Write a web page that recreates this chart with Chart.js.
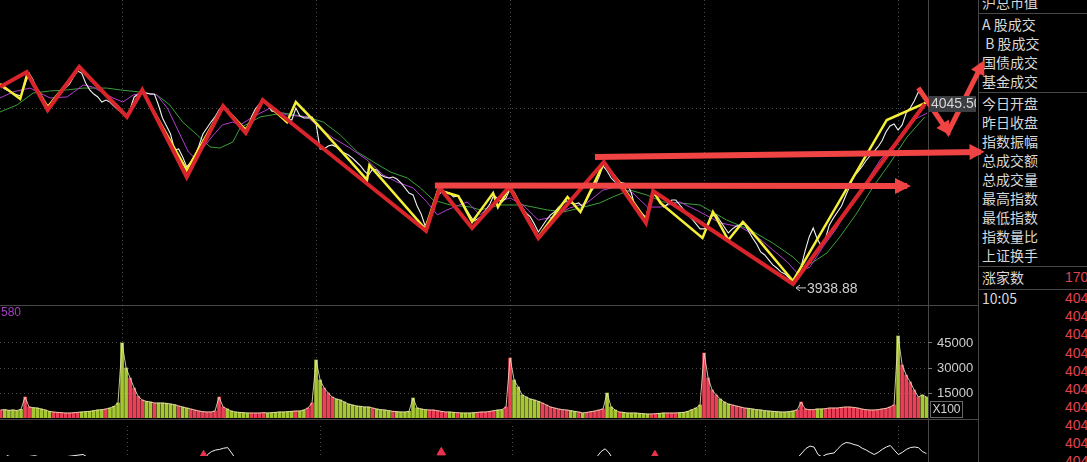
<!DOCTYPE html>
<html lang="zh">
<head>
<meta charset="utf-8">
<title>上证指数 分时</title>
<script src="https://cdn.jsdelivr.net/npm/chart.js@4.4.1/dist/chart.umd.min.js"></script>
<style>
  html, body { margin: 0; padding: 0; background: #000; }
  body { position: relative; width: 1087px; height: 462px; overflow: hidden; font-family: "Liberation Sans", Arial, sans-serif; }
  canvas { position: absolute; left: 0; z-index: 2; }
  #priceChart { top: 0; }
  #volumeChart { top: 305px; }
  #oscChart { top: 420px; }
  .rule { position: absolute; background: #474747; z-index: 0; }
  #side { position: absolute; left: 979px; top: 0; width: 108px; height: 462px; overflow: hidden; z-index: 1;
          font-family: "Noto Sans CJK SC", sans-serif; font-size: 14px; line-height: 18px; color: #d8d8d8; }
  #side div { position: absolute; left: 3px; white-space: nowrap; }
  #side .num { left: 86px; color: #e0434f; font-family: "Liberation Sans", Arial, sans-serif; font-size: 14px; }
  #volTag { position: absolute; left: 1px; top: 305px; font-size: 12px; color: #a63ec4; z-index: 3; }
  #unitBox { position: absolute; left: 930px; top: 401px; width: 31px; height: 15px; border: 1px solid #666;
             font-size: 12px; line-height: 15px; color: #d4d4d4; text-align: center; z-index: 3; }
</style>
</head>
<body>
<div class="rule" style="left:928px;top:0;width:1px;height:462px"></div>
<div class="rule" style="left:978px;top:0;width:1px;height:462px"></div>
<div class="rule" style="left:0;top:305px;width:978px;height:1px"></div>
<div class="rule" style="left:0;top:419px;width:978px;height:1px"></div>
<div class="rule" style="left:979px;top:13px;width:108px;height:1px"></div>
<div class="rule" style="left:979px;top:92px;width:108px;height:1px"></div>
<div class="rule" style="left:979px;top:266px;width:108px;height:1px"></div>
<div class="rule" style="left:979px;top:289px;width:108px;height:1px"></div>

<div id="side">
  <div style="top:-7px">沪总市值</div>
  <div style="top:15px">A 股成交</div>
  <div style="top:34px">&nbsp;B 股成交</div>
  <div style="top:53px">国债成交</div>
  <div style="top:72px">基金成交</div>
  <div style="top:94px">今日开盘</div>
  <div style="top:113px">昨日收盘</div>
  <div style="top:132px">指数振幅</div>
  <div style="top:151px">总成交额</div>
  <div style="top:170px">总成交量</div>
  <div style="top:189px">最高指数</div>
  <div style="top:208px">最低指数</div>
  <div style="top:227px">指数量比</div>
  <div style="top:246px">上证换手</div>
  <div style="top:268px">涨家数</div>
  <div class="num" style="top:268px">1703</div>
  <div style="top:289px">10:05</div>
  <div class="num" style="top:289px">4045.62</div>
  <div class="num" style="top:307px">4045.41</div>
  <div class="num" style="top:325px">4045.37</div>
  <div class="num" style="top:344px">4045.20</div>
  <div class="num" style="top:362px">4045.18</div>
  <div class="num" style="top:380px">4044.96</div>
  <div class="num" style="top:398px">4045.03</div>
  <div class="num" style="top:416px">4044.87</div>
  <div class="num" style="top:434px">4044.91</div>
  <div class="num" style="top:452px">4044.75</div>
</div>

<div id="volTag">580</div>
<div id="unitBox">X100</div>

<canvas id="priceChart" width="1087" height="304"></canvas>
<canvas id="volumeChart" width="1087" height="113"></canvas>
<canvas id="oscChart" width="1087" height="42"></canvas>

<script>
// time axis: trading minutes, one day = 240 minutes, samples every 5 minutes
const timeStart = 90;
const timeStep = 5;
const timeMin = 89;
const timeMax = 1237;
const dayOpens = [240, 480, 720, 960, 1200];

const prevClose = 4042.5;
const priceMin = 3927.7;
const priceMax = 4105.8;

const volumeMax = 67800;
const volumeTicks = [15000, 30000, 45000];

// 5-minute index values
const closes = [
    4055.4, 4053.7, 4052.5, 4051.3, 4050.2, 4049.6, 4056.6, 4063.0, 4058.9, 4052.5,
    4047.2, 4044.9, 4043.7, 4046.6, 4049.0, 4051.9, 4054.3, 4056.6, 4060.7, 4064.2,
    4063.0, 4057.2, 4053.1, 4050.7, 4049.0, 4046.0, 4047.2, 4046.0, 4043.7, 4041.4,
    4039.6, 4037.8, 4042.0, 4049.0, 4050.7, 4052.5, 4051.3, 4050.7, 4050.7, 4044.3,
    4036.7, 4032.0, 4027.3, 4017.9, 4018.5, 4013.8, 4008.0, 4010.9, 4014.4, 4020.3,
    4027.3, 4030.8, 4034.3, 4037.3, 4041.4, 4044.3, 4041.4, 4038.4, 4036.1, 4033.7,
    4031.4, 4030.2, 4037.3, 4042.0, 4044.9, 4047.2, 4044.9, 4040.8, 4040.2, 4039.6,
    4037.3, 4036.1, 4035.5, 4042.5, 4037.8, 4036.7, 4036.7, 4037.3,
    4033.2, 4018.5, 4018.5, 4020.3, 4020.9, 4019.7, 4017.3, 4016.2, 4015.0, 4013.2,
    4010.9, 4008.6, 4005.6, 4003.3, 4006.8, 4006.2, 4003.3, 4002.1, 4001.5, 4002.1,
    4000.9, 3998.6, 3995.7, 3992.7, 3991.6, 3985.1, 3980.4, 3973.4, 3978.1, 3984.5,
    3991.0, 3993.3, 3993.3, 3992.7, 3990.4, 3991.0, 3988.6, 3984.0, 3979.9, 3976.3,
    3977.5, 3979.3, 3982.8, 3986.3, 3991.6, 3989.2, 3987.5, 3989.8,
    3995.1, 3993.3, 3988.6, 3984.0, 3981.0, 3978.7, 3974.6, 3969.9, 3973.4, 3976.9,
    3979.9, 3981.6, 3984.5, 3986.3, 3988.1, 3986.9, 3986.3, 3986.9, 3984.5, 3988.6,
    3993.3, 3996.8, 4002.1, 4008.6, 4005.6, 4001.5, 3999.2, 3999.2, 3998.6, 3998.0,
    3992.7, 3984.0, 3982.2, 3979.9, 3977.5, 3989.8, 3992.2, 3988.1, 3984.5, 3986.3,
    3988.6, 3988.6, 3985.7, 3982.8, 3979.9, 3977.5, 3974.6, 3971.7,
    3971.7, 3975.2, 3979.3, 3979.9, 3976.3, 3972.8, 3969.3, 3971.7, 3973.4, 3974.0,
    3974.6, 3970.5, 3966.4, 3962.9, 3958.2, 3956.4, 3953.5, 3950.6, 3948.8, 3946.5,
    3945.3, 3943.0, 3938.88, 3942.4, 3949.4, 3958.8, 3967.0, 3972.2, 3965.8, 3961.7,
    3965.8, 3974.0, 3978.1, 3981.6, 3985.1, 3991.0, 3996.3, 4002.7, 4005.0, 4008.0,
    4011.5, 4014.4, 4016.8, 4019.7, 4023.2, 4028.5, 4032.0, 4033.2,
    4029.6, 4032.6, 4039.6, 4042.5, 4046.6, 4051.9, 4050.2, 4045.5,
];

// volume per 5-minute slot (x100 hands)
const volumes = [
    4800, 5000, 4600, 4800, 4500, 5200, 12600, 6600, 6200, 6000,
    5400, 4800, 4000, 3600, 3400, 3200, 3000, 3000, 3200, 3400,
    3600, 3800, 4000, 4400, 4800, 5000, 5400, 6000, 7000, 9000,
    45000, 30000, 24000, 18000, 13000, 10800, 10000, 9600, 9000, 9000,
    9000, 8800, 8400, 8000, 7200, 6600, 6000, 5400, 4800, 4200,
    3800, 3600, 3600, 4200, 12600, 6600, 5400, 4200, 3600, 3400,
    3200, 3000, 3000, 3000, 3000, 3200, 3000, 3200, 3400, 3600,
    3600, 3800, 4000, 4200, 4200, 4800, 6000, 9000,
    34800, 22800, 18000, 15000, 12600, 11400, 10800, 9600, 8400, 7800,
    7200, 7000, 6600, 6600, 6000, 5400, 5000, 4800, 4400, 4000,
    3800, 3600, 3600, 4000, 12000, 6000, 5400, 5000, 4800, 4800,
    4400, 4000, 3600, 3600, 3400, 3200, 3000, 3000, 3000, 3200,
    3400, 3600, 3600, 4000, 4400, 4800, 5000, 6600,
    36000, 22800, 18600, 13800, 12600, 11400, 10800, 10000, 9000, 7800,
    6600, 6000, 5400, 5000, 4800, 4400, 4000, 3600, 3000, 3400,
    3800, 4200, 4800, 5400, 15000, 6600, 4800, 3600, 3400, 3000,
    3000, 3000, 2800, 2600, 2400, 2400, 2600, 2800, 3000, 3000,
    3000, 3000, 3200, 3400, 4000, 5000, 6000, 7800,
    39000, 24000, 16800, 13800, 11400, 9600, 8400, 7800, 7200, 6600,
    6000, 5800, 5400, 5000, 4800, 4400, 4200, 4000, 3800, 3600,
    3600, 3800, 4200, 4800, 9600, 5400, 5000, 5000, 5400, 5400,
    5600, 6000, 6000, 6000, 6400, 6600, 6600, 6400, 6000, 5400,
    5000, 4800, 4800, 5000, 5400, 5800, 6600, 7800,
    49200, 31800, 25800, 21600, 16800, 12600, 13800, 12600,
];

// [minute, index] pairs
const maFast = [
    [89, 4048.4], [105, 4051.9], [126, 4054.2], [151, 4048.4], [172, 4049.0], [192, 4056.0],
    [204, 4054.8], [217, 4051.3], [229, 4048.4], [241, 4046.0], [254, 4050.2], [266, 4051.3],
    [283, 4050.2], [296, 4042.5], [312, 4026.7], [322, 4016.8], [330, 4013.2], [340, 4019.1],
    [353, 4026.7], [364, 4032.6], [377, 4034.3], [386, 4032.6], [402, 4037.3], [423, 4042.5],
    [444, 4038.4], [469, 4037.3], [485, 4030.8], [501, 4025.0], [522, 4019.1], [543, 4012.1],
    [563, 4003.3], [580, 3999.2], [600, 3995.7], [617, 3987.5], [630, 3979.9], [642, 3982.8],
    [667, 3987.5], [683, 3979.9], [699, 3986.9], [720, 3989.8], [736, 3985.7], [755, 3976.9],
    [773, 3978.7], [794, 3984.0], [815, 3986.9], [835, 3994.5], [852, 3996.3], [872, 3992.7],
    [890, 3984.5], [906, 3984.5], [930, 3987.5], [955, 3981.6], [980, 3975.2], [1005, 3972.8],
    [1026, 3967.0], [1045, 3959.4], [1063, 3952.3], [1075, 3945.9], [1091, 3949.4], [1107, 3961.1],
    [1125, 3972.8], [1141, 3986.9], [1162, 4000.4], [1178, 4012.1], [1199, 4023.8], [1219, 4035.5],
    [1236, 4039.6],
];

const maSlow = [
    [89, 4040.2], [110, 4044.3], [130, 4051.3], [151, 4052.5], [172, 4053.1], [192, 4054.2],
    [221, 4054.2], [238, 4053.1], [262, 4051.9], [283, 4050.2], [299, 4044.3], [315, 4034.3],
    [333, 4026.7], [349, 4019.7], [361, 4019.1], [377, 4022.6], [386, 4030.8], [411, 4037.3],
    [439, 4039.6], [469, 4037.3], [489, 4034.3], [510, 4026.7], [531, 4016.8], [551, 4010.9],
    [572, 4005.0], [593, 4001.5], [609, 3995.7], [625, 3988.6], [646, 3985.7], [671, 3984.5],
    [683, 3982.8], [708, 3985.7], [736, 3985.7], [766, 3982.8], [786, 3981.6], [807, 3984.0],
    [831, 3986.9], [847, 3990.4], [868, 3994.5], [889, 3991.6], [909, 3987.5], [930, 3986.9],
    [955, 3985.7], [988, 3976.9], [1017, 3971.1], [1045, 3963.4], [1070, 3955.2], [1083, 3949.4],
    [1095, 3952.3], [1112, 3957.6], [1128, 3967.0], [1149, 3981.0], [1169, 3996.3], [1190, 4010.3],
    [1211, 4025.5], [1233, 4037.3],
];

// hand-drawn marks: red wave line, yellow wave line, arrows
const zigRed = [
    [89, 4054.8], [122, 4063.6], [148, 4041.4], [187, 4066.6], [246, 4037.3], [265, 4053.1],
    [320, 4002.1], [365, 4043.7], [393, 4027.9], [414, 4047.2], [616, 3970.5], [633, 3995.7],
    [673, 3972.2], [719, 3996.3], [755, 3966.4], [836, 4010.9], [888, 3975.2], [897, 3993.9],
    [1070, 3939.4], [1233, 4044.9],
];

const zigYellow = [
    [89, 4056.6], [99, 4053.1], [114, 4047.8], [123, 4063.0], [148, 4043.1], [187, 4066.0],
    [246, 4037.8], [265, 4052.5], [320, 4006.2], [365, 4043.7], [393, 4029.6], [414, 4047.2],
    [444, 4034.3], [455, 4046.0], [481, 4033.2], [543, 4000.4], [546, 4009.1], [615, 3971.7],
    [631, 3994.5], [656, 3991.0], [673, 3975.8], [699, 3992.7], [705, 3984.5], [720, 3996.3],
    [755, 3967.0], [791, 3990.4], [807, 3981.6], [836, 4010.3], [856, 3998.6], [888, 3976.9],
    [897, 3993.9], [906, 3986.9], [958, 3966.4], [971, 3981.6], [990, 3965.2], [1008, 3975.8],
    [1017, 3971.1], [1070, 3941.2], [1186, 4035.5], [1236, 4046.0],
];

const arrowLower = [[627, 3997.1], [1211, 3996.8]];
const arrowUpper = [[825, 4013.8], [1302, 4016.8]];
const arrowTurn = [[1225, 4054.3], [1262, 4028.5], [1304, 4068.3]];

// lower oscillator, mostly below the visible band
const oscLine = [
    [90, 2], [100, -8], [125, 1], [140, -10], [185, 5], [200, -20], [335, -20], [340, 5],
    [345, 15], [350, 20], [355, 22], [360, 26], [365, 28], [370, 10], [375, -10], [380, -30],
    [820, -30], [825, -2], [830, 15], [835, 24], [840, 10], [845, -12], [850, -30], [1065, -30],
    [1075, -5], [1080, 10], [1085, 25], [1090, 33], [1095, 30], [1100, 5], [1105, -3], [1110, 5],
    [1115, 8], [1120, 10], [1125, 25], [1130, 38], [1135, 45], [1140, 43], [1145, 38], [1150, 35],
    [1155, 26], [1160, 20], [1165, 12], [1170, 5], [1175, 12], [1180, 22], [1185, 30], [1190, 35],
    [1195, 20], [1200, 5], [1205, 12], [1210, 22], [1215, 28], [1220, 30], [1225, 28], [1230, 15],
    [1235, 8],
];
const oscMarks = [[335, 2], [631, 12], [897, 2]];

const palette = {
    price: "#f2f2f2",
    maFast: "#b23dd2",
    maSlow: "#3c9e3c",
    yellow: "#f5ef38",
    zigRed: "#d9242b",
    arrow: "#f04444",
    volUp: "#ea4058",
    volDown: "#a6c634",
    volLine: "rgba(238, 226, 186, 0.85)",
    grid: "rgba(125, 125, 125, 0.6)",
    axisText: "#cfcfcf",
    tagBg: "#3b3d40",
    oscMark: "#e8334f",
};

const gutterWidth = 159;

const toPoints = (list) => list.map(([x, y]) => ({ x, y }));
const timePoints = (values) => values.map((v, i) => ({ x: timeStart + i * timeStep, y: v }));

function timeAxis() {
    return {
        type: "linear",
        bounds: "data",
        offset: false,
        afterDataLimits: (scale) => {
            scale.min = timeMin;
            scale.max = timeMax;
        },
        afterBuildTicks: (scale) => {
            scale.ticks = dayOpens.map((v) => ({ value: v }));
        },
        ticks: { display: false },
        grid: { color: palette.grid, drawTicks: false, offset: false },
        border: { display: false, dash: [1, 3] },
    };
}

function sideAxis(min, max, ticks, showLabels) {
    return {
        type: "linear",
        position: "right",
        min: min,
        max: max,
        bounds: "data",
        afterBuildTicks: (scale) => {
            scale.ticks = ticks.map((v) => ({ value: v }));
        },
        afterFit: (scale) => {
            scale.width = gutterWidth;
            scale.paddingTop = 0;
            scale.paddingBottom = 0;
        },
        ticks: {
            display: showLabels,
            color: palette.axisText,
            padding: 5,
            font: { family: "Liberation Sans", size: 13 },
            callback: (value) => String(value),
        },
        grid: { color: palette.grid, drawTicks: showLabels, tickLength: 4, tickColor: "#777" },
        border: { display: false, dash: [1, 3] },
    };
}

const baseOptions = {
    responsive: false,
    animation: false,
    layout: { padding: 0 },
    plugins: { legend: { display: false }, tooltip: { enabled: false } },
    elements: { point: { radius: 0 }, line: { tension: 0 } },
};

// arrow heads at chosen vertices, pointing along the incoming segment
const arrowHeads = {
    id: "arrowHeads",
    afterDatasetsDraw(chart) {
        const ctx = chart.ctx;
        chart.data.datasets.forEach((ds, di) => {
            if (!ds.arrowAt) return;
            const pts = chart.getDatasetMeta(di).data;
            ds.arrowAt.forEach((k) => {
                const a = pts[k - 1];
                const b = pts[k];
                const ang = Math.atan2(b.y - a.y, b.x - a.x);
                ctx.save();
                ctx.translate(b.x, b.y);
                ctx.rotate(ang);
                ctx.beginPath();
                ctx.moveTo(4, 0);
                ctx.lineTo(4 - ds.headLength, -ds.headWidth / 2);
                ctx.lineTo(4 - ds.headLength, ds.headWidth / 2);
                ctx.closePath();
                ctx.fillStyle = ds.borderColor;
                ctx.fill();
                ctx.restore();
            });
        });
    },
};

// last price tag in the gutter and the day-low marker
const priceLabels = {
    id: "priceLabels",
    afterDatasetsDraw(chart) {
        const { ctx, chartArea, scales } = chart;
        const last = closes[closes.length - 1];
        const yl = scales.y.getPixelForValue(last);
        ctx.save();
        ctx.beginPath();
        ctx.rect(chartArea.right + 1, yl - 7, 47, 16);
        ctx.fillStyle = palette.tagBg;
        ctx.fill();
        ctx.clip();
        ctx.fillStyle = "#d8d8d8";
        ctx.font = '14px "Liberation Sans"';
        ctx.textBaseline = "middle";
        ctx.fillText(last.toFixed(2), chartArea.right + 3, yl + 1.5);
        ctx.restore();

        const low = Math.min(...closes);
        const li = closes.indexOf(low);
        const lx = scales.x.getPixelForValue(timeStart + li * timeStep);
        const ly = scales.y.getPixelForValue(low) + 3;
        ctx.save();
        ctx.strokeStyle = "#cfcfcf";
        ctx.lineWidth = 1;
        ctx.beginPath();
        ctx.moveTo(lx + 3, ly);
        ctx.lineTo(lx + 13, ly);
        ctx.moveTo(lx + 3, ly);
        ctx.lineTo(lx + 7, ly - 3);
        ctx.moveTo(lx + 3, ly);
        ctx.lineTo(lx + 7, ly + 3);
        ctx.stroke();
        ctx.fillStyle = "#cfcfcf";
        ctx.font = '14px "Liberation Sans"';
        ctx.textBaseline = "middle";
        ctx.fillText(low.toFixed(2), lx + 14, ly + 1);
        ctx.restore();
    },
};

new Chart(document.getElementById("priceChart"), {
    type: "line",
    data: {
        datasets: [
            { label: "转折", data: toPoints(arrowTurn), borderColor: palette.arrow, borderWidth: 5,
              arrowAt: [1, 2], headLength: 14, headWidth: 15, clip: false, order: 0 },
            { label: "上轨", data: toPoints(arrowUpper), borderColor: palette.arrow, borderWidth: 6,
              arrowAt: [1], headLength: 15, headWidth: 16, clip: false, order: 0 },
            { label: "下轨", data: toPoints(arrowLower), borderColor: palette.arrow, borderWidth: 6,
              arrowAt: [1], headLength: 16, headWidth: 16, clip: false, order: 0 },
            { label: "红线", data: toPoints(zigRed), borderColor: palette.zigRed, borderWidth: 4, order: 1 },
            { label: "黄线", data: toPoints(zigYellow), borderColor: palette.yellow, borderWidth: 2.5, order: 2 },
            { label: "指数", data: timePoints(closes), borderColor: palette.price, borderWidth: 1.1, order: 3 },
            { label: "均线", data: toPoints(maFast), borderColor: palette.maFast, borderWidth: 1, order: 4 },
            { label: "均线2", data: toPoints(maSlow), borderColor: palette.maSlow, borderWidth: 1, order: 5 },
        ],
    },
    options: {
        ...baseOptions,
        scales: {
            x: timeAxis(),
            y: sideAxis(priceMin, priceMax, [prevClose], false),
        },
    },
    plugins: [arrowHeads, priceLabels],
});

new Chart(document.getElementById("volumeChart"), {
    type: "bar",
    data: {
        datasets: [
            { type: "line", data: timePoints(volumes), borderColor: palette.volLine, borderWidth: 1,
              pointRadius: 0, order: 0 },
            {
                type: "bar",
                data: timePoints(volumes),
                barThickness: 3,
                backgroundColor: (ctx) => {
                    const i = ctx.dataIndex;
                    return i > 0 && closes[i] < closes[i - 1] ? palette.volDown : palette.volUp;
                },
                order: 1,
            },
        ],
    },
    options: {
        ...baseOptions,
        scales: {
            x: timeAxis(),
            y: sideAxis(0, volumeMax, volumeTicks, true),
        },
    },
});

new Chart(document.getElementById("oscChart"), {
    type: "line",
    data: {
        datasets: [
            { data: toPoints(oscMarks), showLine: false, pointStyle: "triangle", pointRadius: 5,
              backgroundColor: palette.oscMark, borderColor: palette.oscMark, order: 0 },
            { data: toPoints(oscLine), borderColor: "#f0f0f0", borderWidth: 1, order: 1 },
        ],
    },
    options: {
        ...baseOptions,
        scales: {
            x: timeAxis(),
            y: sideAxis(0, 100, [], false),
        },
    },
});
</script>
</body>
</html>
